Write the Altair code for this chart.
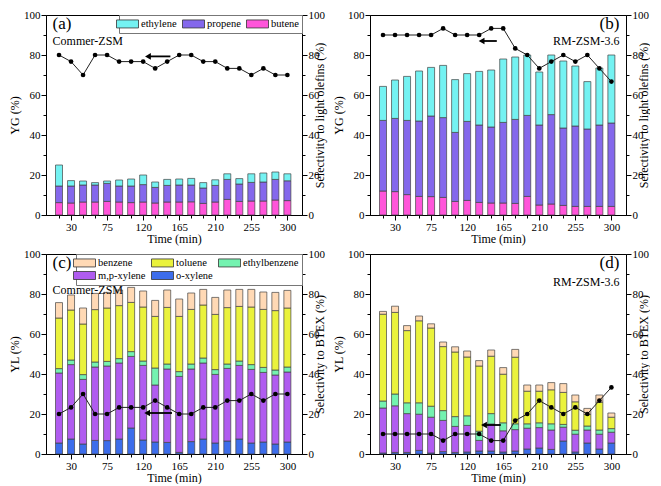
import altair as alt
import pandas as pd

FONT = "Liberation Serif"
time = list(range(15, 301, 15))

# ---- panel (a): Commer-ZSM, gas products (cumulative tops, bottom-up)
a_butene = [6.2, 6.0, 6.5, 6.5, 6.8, 6.5, 6.2, 6.5, 6.0, 6.5, 6.5, 6.6, 5.8, 6.5, 7.8, 6.8, 7.0, 7.0, 7.5, 7.2]
a_propene_top = [14.5, 14.5, 15.0, 15.0, 15.8, 14.5, 14.5, 15.2, 13.8, 14.8, 15.0, 15.0, 13.5, 14.8, 17.8, 15.5, 16.3, 16.5, 17.8, 17.1]
a_total = [25.0, 17.2, 17.0, 16.2, 17.0, 17.5, 18.0, 20.0, 16.5, 17.8, 18.0, 18.3, 16.2, 17.6, 20.6, 18.2, 20.6, 21.0, 21.5, 20.6]
a_sel = [80, 76.7, 70, 80, 80, 76.7, 76.7, 76.7, 73.3, 76.7, 80, 80, 76.7, 76.7, 73.3, 73.3, 70, 73.3, 70, 70]

# ---- panel (b): RM-ZSM-3.6, gas products
b_butene = [12.0, 11.7, 10.2, 9.3, 9.2, 8.8, 6.8, 7.3, 6.3, 6.0, 6.0, 5.8, 9.3, 5.0, 5.5, 4.8, 4.3, 4.3, 4.3, 4.3]
b_propene_top = [47.3, 48.3, 47.3, 47.0, 49.5, 48.7, 41.3, 46.8, 45.0, 44.0, 46.3, 47.8, 49.8, 45.0, 50.2, 43.5, 44.5, 43.0, 45.0, 46.0]
b_total = [64.3, 67.5, 69.3, 72.0, 73.8, 74.8, 67.7, 70.7, 71.8, 72.5, 78.0, 79.0, 80.0, 71.5, 80.0, 77.0, 74.5, 66.7, 73.5, 80.0]
b_sel = [90, 90, 90, 90, 90, 93.3, 90, 90, 90, 93.3, 93.3, 83.3, 80, 73.3, 76.7, 80, 76.7, 80, 73.3, 66.7]

# ---- panel (c): Commer-ZSM, liquid products (cumulative tops, bottom-up)
c_oxylene = [5.5, 7.5, 5.0, 6.8, 6.7, 7.5, 13.0, 7.0, 6.0, 5.8, 0.8, 6.2, 7.5, 5.5, 6.5, 7.5, 5.5, 6.0, 5.0, 6.0]
c_mpxylene_top = [40.5, 44.7, 37.3, 43.5, 44.0, 45.5, 48.8, 44.3, 34.5, 42.5, 38.8, 42.5, 45.5, 39.8, 42.8, 44.3, 42.3, 40.8, 39.5, 41.0]
c_ebenzene_top = [42.7, 47.0, 39.7, 46.0, 46.3, 47.7, 51.2, 46.5, 43.0, 45.0, 41.2, 45.0, 48.0, 42.2, 45.0, 46.5, 44.7, 43.3, 42.0, 43.5]
c_toluene_top = [68.0, 72.0, 65.0, 72.2, 73.0, 74.2, 75.8, 73.5, 68.8, 73.3, 68.8, 72.3, 74.5, 69.8, 73.2, 73.8, 73.5, 72.3, 71.7, 73.0]
c_total = [75.7, 79.5, 73.0, 80.3, 80.8, 82.0, 83.3, 81.5, 76.8, 82.0, 77.5, 80.5, 82.3, 78.3, 82.0, 82.3, 82.3, 81.0, 80.8, 81.8]
c_sel = [20, 23.3, 30, 20, 20, 23.3, 23.3, 23.3, 26.7, 23.3, 20, 20, 23.3, 23.3, 26.7, 26.7, 30, 26.7, 30, 30]

# ---- panel (d): RM-ZSM-3.6, liquid products
d_oxylene = [0.5, 0.8, 0.8, 1.8, 0.5, 1.2, 0.8, 1.0, 1.5, 1.5, 1.0, 1.5, 2.5, 3.0, 2.3, 6.5, 1.0, 5.5, 2.5, 5.5]
d_mpxylene_top = [23.0, 24.1, 20.2, 19.9, 18.4, 16.8, 13.8, 14.3, 6.8, 15.0, 11.6, 12.2, 12.9, 13.2, 12.0, 13.4, 9.9, 12.0, 9.9, 10.9]
d_ebenzene_top = [26.5, 30.0, 25.6, 25.6, 23.9, 21.7, 18.7, 19.1, 11.4, 20.2, 15.6, 15.1, 15.1, 15.6, 15.1, 14.8, 11.9, 14.0, 12.0, 12.7]
d_toluene_top = [69.9, 70.8, 61.7, 66.6, 63.0, 53.7, 51.0, 48.5, 44.0, 48.9, 39.9, 48.4, 31.4, 31.4, 32.1, 30.8, 26.1, 19.8, 25.9, 18.4]
d_total = [71.3, 73.9, 64.2, 69.0, 65.1, 56.0, 53.6, 51.5, 46.7, 52.0, 43.2, 52.3, 34.5, 34.5, 35.7, 35.2, 29.5, 22.8, 29.5, 20.5]
d_sel = [10, 10, 10, 10, 10, 6.7, 10, 10, 10, 6.7, 6.7, 16.7, 20, 26.7, 23.3, 20, 23.3, 20, 26.7, 33.3]

gas_legend = ["ethylene", "propene", "butene"]
gas_colors = ["#74F2F2", "#8468EC", "#FF55DA"]
gas_stack = ["butene", "propene", "ethylene"]
liq_legend = ["benzene", "toluene", "ethylbenzene", "m,p-xylene", "o-xylene"]
liq_colors = ["#FFD9B5", "#EAF23C", "#74F2B0", "#B05CF0", "#3D6DEB"]
liq_stack = ["o-xylene", "m,p-xylene", "ethylbenzene", "toluene", "benzene"]

# arrows: head time, tail time, level
arrow_a = [126, 154, 79.3]
arrow_b = [138, 157, 87.0]
arrow_c = [125, 156, 20.5]
arrow_d = [141, 162, 14.5]

# panel annotations: (text, time, value, align, size)
notes_a = [("(a)", 7, 99.5, "left", 17), ("Commer-ZSM", 7, 87, "left", 12)]
notes_b = [("(b)", 310, 99.5, "right", 17), ("RM-ZSM-3.6", 310, 87, "right", 12)]
notes_c = [("(c)", 7, 99.5, "left", 17), ("Commer-ZSM", 7, 82, "left", 12)]
notes_d = [("(d)", 310, 99.5, "right", 17), ("RM-ZSM-3.6", 310, 86, "right", 12)]

W, H = 256, 200


def bar_frame(tops, names):
    rows = []
    for i, t in enumerate(time):
        lo = 0.0
        for name, series in zip(names, tops):
            hi = series[i]
            rows.append({"time": t, "series": name, "lo": lo, "hi": hi})
            lo = hi
    return pd.DataFrame(rows)


tick_major_x = {"condition": {"test": "(datum.value - 30) % 45 == 0", "value": 5}, "value": 3}
tick_major_y = {"condition": {"test": "datum.value % 20 == 0", "value": 5}, "value": 3}

xscale = alt.Scale(domain=[5, 312], nice=False, zero=False)
x_axis = alt.Axis(
    values=time,
    labelExpr="(datum.value - 30) % 45 == 0 ? datum.label : ''",
    tickSize=tick_major_x,
    title="Time (min)",
    grid=False,
    titlePadding=1,
)


def xe(field):
    return alt.X(field, type="quantitative", scale=xscale, axis=x_axis)


yscale = alt.Scale(domain=[0, 100], nice=False)


def y_axis(orient, title):
    kw = dict(
        orient=orient,
        values=list(range(0, 101, 10)),
        labelExpr="datum.value % 20 == 0 ? datum.label : ''",
        tickSize=tick_major_y,
        title=title,
        grid=False,
    )
    if orient == "right":
        kw["titleAngle"] = 270
    return alt.Axis(**kw)


def panel(tops, stack_names, legend_names, colors, sel, arrow, notes, ytitle, rtitle, show_legend, legend_cols):
    bdf = bar_frame(tops, stack_names)
    if show_legend:
        leg = alt.Legend(
            orient="top-right",
            direction="horizontal",
            title=None,
            columns=legend_cols,
            symbolType="M-2.2,-0.8H2.2V0.8H-2.2Z",
            symbolSize=100,
            symbolStrokeColor="#333333",
            symbolStrokeWidth=0.8,
            labelOffset=8,
            labelFontSize=10.5,
            columnPadding=3,
            rowPadding=0,
            padding=3,
            offset=0,
            strokeColor="#777777",
            fillColor="white",
        )
    else:
        leg = None
    bars = alt.Chart(bdf).mark_bar(size=7, stroke="#444444", strokeWidth=0.7).encode(
        x=xe("time"),
        y=alt.Y("lo:Q", scale=yscale, axis=y_axis("left", ytitle)),
        y2="hi:Q",
        color=alt.Color("series:N", scale=alt.Scale(domain=legend_names, range=colors), legend=leg),
    )
    sdf = pd.DataFrame({"time": time, "sel": sel})
    line = alt.Chart(sdf).mark_line(color="#222222", strokeWidth=1).encode(
        x=xe("time"), y=alt.Y("sel:Q", scale=yscale, axis=y_axis("right", rtitle))
    )
    pts = alt.Chart(sdf).mark_point(filled=True, color="black", size=22, opacity=1).encode(
        x=xe("time"), y=alt.Y("sel:Q", scale=yscale, axis=None)
    )
    adf = pd.DataFrame({"head": [arrow[0]], "tail": [arrow[1]], "lvl": [arrow[2]]})
    rule = alt.Chart(adf).mark_rule(color="black", strokeWidth=1.8).encode(
        x=xe("head"),
        x2="tail:Q",
        y=alt.Y("lvl:Q", scale=yscale, axis=None),
    )
    head = alt.Chart(adf).mark_point(shape="triangle-left", filled=True, color="black", size=45, opacity=1).encode(
        x=xe("head"),
        y=alt.Y("lvl:Q", scale=yscale, axis=None),
    )
    layers = [bars, line, pts, rule, head]
    for txt, tx, ty, al, fs in notes:
        ndf = pd.DataFrame({"t": [tx], "v": [ty], "label": [txt]})
        layers.append(
            alt.Chart(ndf).mark_text(align=al, baseline="top" if fs > 14 else "middle", font=FONT, fontSize=fs, color="black").encode(
                x=xe("t"),
                y=alt.Y("v:Q", scale=yscale, axis=None),
                text="label:N",
            )
        )
    return alt.layer(*layers).resolve_scale(y="independent").properties(width=W, height=H)


pa = panel([a_butene, a_propene_top, a_total], gas_stack, gas_legend, gas_colors, a_sel, arrow_a, notes_a,
           "YG (%)", "Selectivity to light olefins (%)", True, 3)
pb = panel([b_butene, b_propene_top, b_total], gas_stack, gas_legend, gas_colors, b_sel, arrow_b, notes_b,
           "YG (%)", "Selectivity to light olefins (%)", False, 3)
pc = panel([c_oxylene, c_mpxylene_top, c_ebenzene_top, c_toluene_top, c_total], liq_stack, liq_legend, liq_colors,
           c_sel, arrow_c, notes_c, "YL (%)", "Selectivity to BTEX (%)", True, 3)
pd_ = panel([d_oxylene, d_mpxylene_top, d_ebenzene_top, d_toluene_top, d_total], liq_stack, liq_legend, liq_colors,
            d_sel, arrow_d, notes_d, "YL (%)", "Selectivity to BTEX (%)", False, 3)

row1 = alt.hconcat(pa, pb, spacing=6).resolve_scale(color="independent")
row2 = alt.hconcat(pc, pd_, spacing=6).resolve_scale(color="independent")
chart = (
    alt.vconcat(row1, row2, spacing=2)
    .resolve_scale(color="independent")
    .properties(padding=0)
    .configure_axis(
        labelFont=FONT, titleFont=FONT, labelFontSize=11, titleFontSize=12,
        titleFontWeight="normal", domainColor="black", tickColor="black",
        labelColor="black", titleColor="black", labelPadding=1, titlePadding=2,
    )
    .configure_view(stroke="black", strokeWidth=1)
    .configure_legend(labelFont=FONT, labelFontSize=10.5, labelColor="black")
)

chart.save("out.html", embed_options={"renderer": "svg", "actions": False})
